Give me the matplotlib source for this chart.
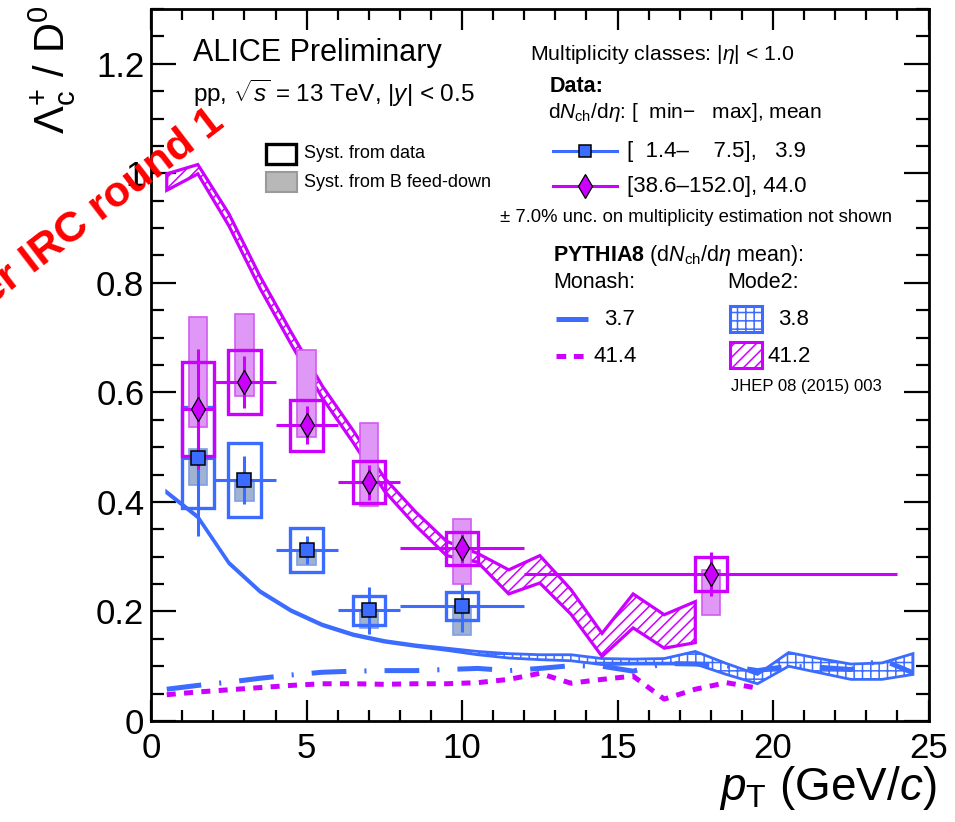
import numpy as np
import matplotlib
matplotlib.use('Agg')
import matplotlib.pyplot as plt
from matplotlib.patches import Rectangle, Polygon
from matplotlib.lines import Line2D
from matplotlib.ticker import MultipleLocator, FixedLocator, FixedFormatter

plt.rcParams['font.family'] = ['Liberation Sans', 'DejaVu Sans']
plt.rcParams['mathtext.fontset'] = 'custom'
plt.rcParams['mathtext.rm'] = 'Liberation Sans'
plt.rcParams['mathtext.it'] = 'Liberation Sans:italic'
plt.rcParams['mathtext.bf'] = 'Liberation Sans:bold'
plt.rcParams['mathtext.sf'] = 'Liberation Sans'
plt.rcParams['hatch.linewidth'] = 1.1
plt.rcParams['lines.scale_dashes'] = False

BLUE = '#3b6bff'
MAG = '#cc00ff'

# ---------------- data: low multiplicity [1.4-7.5] ----------------
pt_low = [1.5, 3.0, 5.0, 7.0, 10.0]
ptlo_low = [1.0, 2.0, 4.0, 6.0, 8.0]
pthi_low = [2.0, 4.0, 6.0, 8.0, 12.0]
ratio_low = [0.481, 0.440, 0.312, 0.202, 0.210]
stat_low = [0.144, 0.043, 0.026, 0.043, 0.048]
syst_low = [0.093, 0.068, 0.040, 0.027, 0.026]
fd_low_lo = [0.430, 0.402, 0.285, 0.170, 0.157]
fd_low_hi = [0.496, 0.438, 0.312, 0.202, 0.210]

# ---------------- data: high multiplicity [38.6-152.0] ----------------
pt_high = [1.5, 3.0, 5.0, 7.0, 10.0, 18.0]
ptlo_high = [1.0, 2.0, 4.0, 6.0, 8.0, 12.0]
pthi_high = [2.0, 4.0, 6.0, 8.0, 12.0, 24.0]
ratio_high = [0.570, 0.619, 0.540, 0.436, 0.315, 0.268]
stat_high = [0.109, 0.047, 0.035, 0.032, 0.026, 0.040]
syst_high = [0.086, 0.058, 0.047, 0.038, 0.030, 0.031]
fd_high_lo = [0.537, 0.593, 0.519, 0.393, 0.251, 0.193]
fd_high_hi = [0.737, 0.744, 0.678, 0.544, 0.368, 0.275]

# ---------------- PYTHIA8 Mode2 low mult (3.8) band ----------------
pt_m2_low = [0.5, 1.5, 2.5, 3.5, 4.5, 5.5, 6.5, 7.5, 8.5, 9.5, 10.5, 11.5, 12.5,
             13.5, 14.5, 15.5, 16.5, 17.5, 18.5, 19.5, 20.5, 21.5, 22.5, 23.5, 24.5]
m2_low_lo = [0.416, 0.371, 0.287, 0.235, 0.200, 0.174, 0.156, 0.144, 0.136, 0.129,
             0.121, 0.115, 0.112, 0.110, 0.103, 0.104, 0.104, 0.104, 0.085, 0.068,
             0.100, 0.088, 0.076, 0.076, 0.085]
m2_low_hi = [0.419, 0.374, 0.290, 0.238, 0.203, 0.177, 0.159, 0.147, 0.139, 0.133,
             0.127, 0.123, 0.121, 0.121, 0.114, 0.113, 0.114, 0.127, 0.105, 0.085,
             0.125, 0.114, 0.104, 0.106, 0.123]

# ---------------- PYTHIA8 Mode2 high mult (41.2) band ----------------
pt_m2_high = [0.5, 1.5, 2.5, 3.5, 4.5, 5.5, 6.5, 7.5, 8.5, 9.5, 10.5, 11.5, 12.5,
              13.5, 14.5, 15.5, 16.5, 17.5]
m2_high_lo = [0.969, 0.999, 0.904, 0.790, 0.688, 0.590, 0.508, 0.420, 0.357, 0.302,
              0.290, 0.232, 0.252, 0.195, 0.118, 0.170, 0.133, 0.143]
m2_high_hi = [0.999, 1.016, 0.926, 0.812, 0.710, 0.612, 0.530, 0.444, 0.382, 0.328,
              0.306, 0.276, 0.302, 0.240, 0.160, 0.232, 0.194, 0.218]

# ---------------- PYTHIA8 Monash curves ----------------
pt_mon_low = [0.5, 1.5, 2.5, 3.5, 4.5, 5.5, 6.5, 7.5, 8.5, 9.5, 10.5, 11.5, 12.5,
              13.5, 14.5, 15.5, 16.5, 17.5, 18.5, 19.5, 20.5, 21.5, 22.5, 23.5, 24.5]
mon_low = [0.058, 0.065, 0.071, 0.078, 0.084, 0.089, 0.091, 0.092, 0.092, 0.094,
           0.096, 0.092, 0.096, 0.101, 0.100, 0.091, 0.105, 0.104, 0.101, 0.092,
           0.100, 0.098, 0.094, 0.112, 0.088]
pt_mon_high = [0.5, 1.5, 2.5, 3.5, 4.5, 5.5, 6.5, 7.5, 8.5, 9.5, 10.5, 11.5, 12.5,
               13.5, 14.5, 15.5, 16.5, 17.5, 18.5, 19.5]
mon_high = [0.048, 0.053, 0.057, 0.061, 0.065, 0.068, 0.068, 0.067, 0.068, 0.068,
            0.070, 0.076, 0.087, 0.069, 0.076, 0.082, 0.040, 0.058, 0.070, 0.060]

yticks = [0.0, 0.2, 0.4, 0.6, 0.8, 1.0, 1.2]
ytick_labels = ['0', '0.2', '0.4', '0.6', '0.8', '1', '1.2']
xticks = [0, 5, 10, 15, 20, 25]
xtick_labels = ['0', '5', '10', '15', '20', '25']

W, H = 955, 822
fig = plt.figure(figsize=(W / 100, H / 100), dpi=100)
ax = fig.add_axes([151.2 / W, 1 - 721 / H, (928.5 - 151.2) / W, (721 - 9) / H])
ax.set_xlim(0, 25)
ax.set_ylim(0, 1.3)


def draw_band(x, lo, hi, color, lw, z, hatch):
    x = np.asarray(x, float)
    lo = np.asarray(lo, float)
    hi = np.asarray(hi, float)
    ax.fill_between(x, lo, hi, facecolor='none', edgecolor=color, hatch=hatch,
                    linewidth=0, zorder=z)
    px = np.concatenate([x, x[::-1]])
    py = np.concatenate([hi, lo[::-1]])
    ax.add_patch(Polygon(np.column_stack([px, py]), closed=True, fill=False,
                         edgecolor=color, linewidth=lw, zorder=z + 0.1, joinstyle='miter'))


draw_band(pt_m2_low, m2_low_lo, m2_low_hi, BLUE, 2.0, 2, '++')
draw_band(pt_m2_high, m2_high_lo, m2_high_hi, MAG, 2.3, 2, '///')

ax.plot(pt_mon_low, mon_low, color=BLUE, lw=3.6, ls=(0, (25, 13, 1.5, 13)), zorder=3,
        solid_capstyle='butt', dash_capstyle='butt')
ax.plot(pt_mon_high, mon_high, color=MAG, lw=3.6, ls=(0, (6.5, 6)), zorder=3,
        dash_capstyle='butt')


def draw_data(pt, lo, hi, y, stat, syst, fdlo, fdhi, color, fdface, fdedge, z):
    pt = np.asarray(pt, float)
    y = np.asarray(y, float)
    for i in range(len(pt)):
        ax.add_patch(Rectangle((pt[i] - 0.3, fdlo[i]), 0.6, fdhi[i] - fdlo[i],
                               facecolor=fdface, edgecolor=fdedge, lw=1.2, zorder=z))
    for i in range(len(pt)):
        ax.add_patch(Rectangle((pt[i] - 0.52, y[i] - syst[i]), 1.04, 2 * syst[i],
                               fill=False, edgecolor=color, lw=2.4, zorder=z + 0.2))
    ax.errorbar(pt, y, xerr=[pt - np.asarray(lo), np.asarray(hi) - pt], yerr=stat,
                fmt='none', ecolor=color, elinewidth=2.2, capsize=0, zorder=z + 0.4)


draw_data(pt_low, ptlo_low, pthi_low, ratio_low, stat_low, syst_low, fd_low_lo, fd_low_hi,
          BLUE, '#9fb2d0', '#7f9ee8', 5)
draw_data(pt_high, ptlo_high, pthi_high, ratio_high, stat_high, syst_high, fd_high_lo,
          fd_high_hi, MAG, '#df98f5', '#d35af2', 6)
ax.plot(pt_low, ratio_low, ls='none', marker='s', ms=9.5, mfc=BLUE, mec='black', mew=1.1, zorder=10)
ax.plot(pt_high, ratio_high, ls='none', marker='d', ms=12, mfc=MAG, mec='black', mew=0.9, zorder=10)

# axes styling
ax.xaxis.set_major_locator(FixedLocator(xticks))
ax.xaxis.set_major_formatter(FixedFormatter(xtick_labels))
ax.xaxis.set_minor_locator(MultipleLocator(1))
ax.yaxis.set_major_locator(FixedLocator(yticks))
ax.yaxis.set_major_formatter(FixedFormatter(ytick_labels))
ax.yaxis.set_minor_locator(MultipleLocator(0.05))
ax.tick_params(which='both', direction='in', top=True, right=True, width=1.6, labelsize=25)
ax.xaxis.set_tick_params(which='major', length=15, pad=8)
ax.xaxis.set_tick_params(which='minor', length=8)
ax.yaxis.set_tick_params(which='major', length=18, pad=5)
ax.yaxis.set_tick_params(which='minor', length=9.4)
for s in ax.spines.values():
    s.set_linewidth(2.0)

# axis titles
fig.text(936 / W, 1 - 800 / H, r'$p_{\rm T}$ (GeV/$c$)', ha='right', va='baseline', size=33)
fig.text(64 / W, 1 - 5 / H, r'$\Lambda_{\rm c}^{+}$ / D$^{0}$', rotation=90,
         rotation_mode='anchor', ha='right', va='baseline', size=30)


def T(x, y, s, size=15.5, **kw):
    fig.text(x / W, 1 - y / H, s, size=size, ha='left', va='center', **kw)


def L(x1, x2, y, **kw):
    fig.add_artist(Line2D([x1 / W, x2 / W], [1 - y / H, 1 - y / H],
                          transform=fig.transFigure, **kw))


def R(x1, y1, x2, y2, **kw):
    fig.add_artist(Rectangle((x1 / W, 1 - y2 / H), (x2 - x1) / W, (y2 - y1) / H,
                             transform=fig.transFigure, **kw))


T(193, 53, 'ALICE Preliminary', size=22)
T(193, 93, r'pp, $\sqrt{s}$ = 13 TeV, |$y$| < 0.5', size=17.5)
T(530, 55, r'Multiplicity classes: |$\eta$| < 1.0', size=15.3)
T(550, 86, 'Data:', size=15.5, weight='bold')
T(548, 113, r'd$N_{\rm ch}$/d$\eta$: [  min$-$   max], mean', size=15)

L(553, 617, 151, color=BLUE, lw=2.2)
fig.add_artist(Line2D([585 / W], [1 - 151 / H], transform=fig.transFigure, ls='none',
                      marker='s', ms=9, mfc=BLUE, mec='black', mew=1.1))
T(627, 151, '[  1.4–    7.5],   3.9', size=16)
L(553, 617, 186, color=MAG, lw=2.2)
fig.add_artist(Line2D([585 / W], [1 - 186 / H], transform=fig.transFigure, ls='none',
                      marker='d', ms=12, mfc=MAG, mec='black', mew=0.9))
T(627, 186, '[38.6–152.0], 44.0', size=16)
T(500, 218, '± 7.0% unc. on multiplicity estimation not shown', size=13.3)
T(553, 255, r'$\mathbf{PYTHIA8}$ (d$N_{\rm ch}$/d$\eta$ mean):', size=15.5)
T(553, 283, 'Monash:', size=15.5)
T(727, 283, 'Mode2:', size=15.5)
L(556, 588, 319, color=BLUE, lw=3.6, solid_capstyle='butt')
T(604, 319, '3.7', size=16)
L(556, 584, 356, color=MAG, lw=3.6, ls=(0, (7, 5.5)), dash_capstyle='butt')
T(593, 356, '41.4', size=16)
R(730, 306, 762, 332, facecolor='none', edgecolor=BLUE, hatch='++', lw=2.2)
T(778, 319, '3.8', size=16)
R(730, 342, 762, 368, facecolor='none', edgecolor=MAG, hatch='///', lw=2.2)
T(767, 356, '41.2', size=16)
T(731, 386, 'JHEP 08 (2015) 003', size=12)

R(266, 144, 296, 164, facecolor='none', edgecolor='black', lw=2.4)
T(304, 154, 'Syst. from data', size=13)
R(266, 172, 297, 192, facecolor='#b8b8b8', edgecolor='#9a9a9a', lw=1.5)
T(304, 182, 'Syst. from B feed-down', size=13)

# red watermark text (partly cut by the left border, as in the reference)
fig.text(226 / W, 1 - 126 / H, 'er IRC round 1', color='red', weight='bold', size=31,
         rotation=37.5, rotation_mode='anchor', ha='right', va='baseline', zorder=20)

fig.savefig('out.png', dpi=100)
